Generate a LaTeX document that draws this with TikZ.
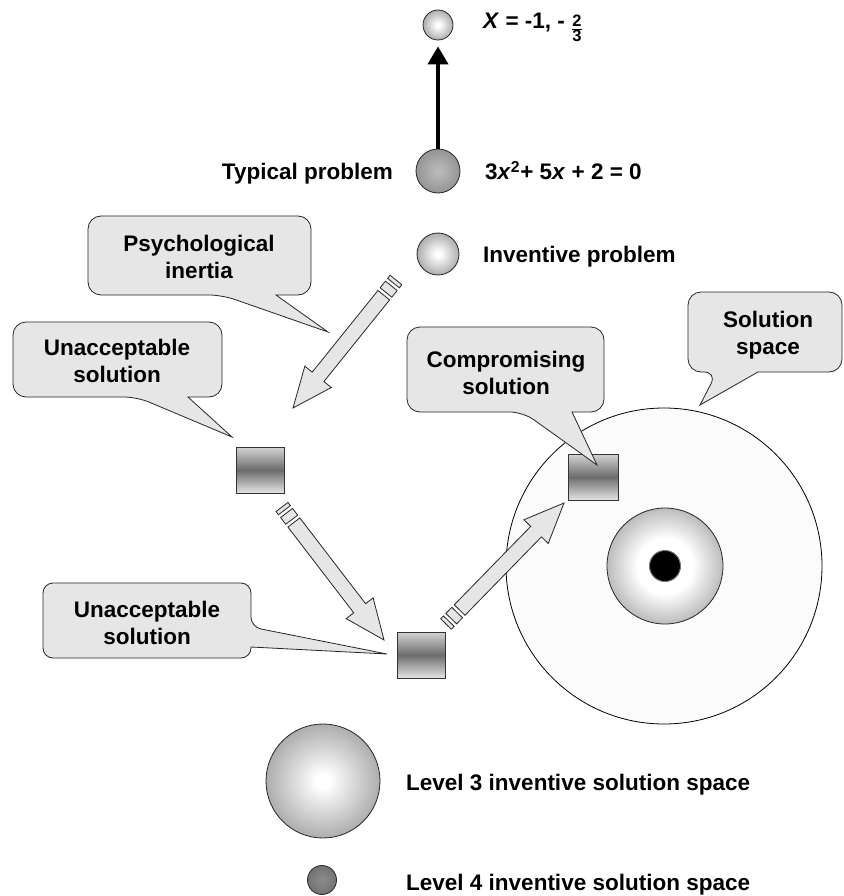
\documentclass[tikz,border=0pt]{standalone}
\usepackage{fontspec}
\setmainfont{Liberation Sans}
\usetikzlibrary{arrows.meta}

\definecolor{boxfill}{HTML}{E6E6E6}
\definecolor{spacefill}{HTML}{FBFBFB}
\definecolor{sqtop}{HTML}{D4D4D4}
\definecolor{sqmid}{HTML}{6C6C6C}
\definecolor{sqbot}{HTML}{E4E4E4}
\definecolor{ballrim}{HTML}{888888}
\definecolor{midcore}{HTML}{BDBDBD}
\definecolor{midrim}{HTML}{848484}
\definecolor{darkcore}{HTML}{8C8C8C}
\definecolor{darkrim}{HTML}{686868}

% radial fills for the spheres and the ring (the rim of a circle sits at about 35bp)
\pgfdeclareradialshading{lightball}{\pgfpoint{0bp}{0bp}}{color(0bp)=(white); color(3bp)=(white); color(35bp)=(ballrim); color(50bp)=(ballrim)}
\pgfdeclareradialshading{midball}{\pgfpoint{0bp}{0bp}}{color(0bp)=(midcore); color(35bp)=(midrim); color(50bp)=(midrim)}
\pgfdeclareradialshading{darkball}{\pgfpoint{0bp}{0bp}}{color(0bp)=(darkcore); color(35bp)=(darkrim); color(50bp)=(darkrim)}
\pgfdeclareradialshading{ringshade}{\pgfpoint{0bp}{0bp}}{color(0bp)=(white); color(12bp)=(white); color(35bp)=(ballrim); color(50bp)=(ballrim)}

\tikzset{
  lbl/.style={font=\bfseries\fontsize{22.5}{27}\selectfont, inner sep=0pt},
  calltext/.style={lbl, align=center},
  ball/.style={circle, inner sep=0pt, draw=black!85, line width=0.8pt, shade, shading=#1},
  sq/.style={rectangle, inner sep=0pt, minimum width=48pt, minimum height=46pt,
    draw=black!80, line width=0.8pt, top color=sqtop, bottom color=sqbot, middle color=sqmid},
  callbox/.style={draw=black!85, line width=0.8pt, fill=boxfill},
  blockarrow/.style={draw=black!85, line width=0.8pt, fill=boxfill},
  liftarrow/.style={line width=4pt, -{Triangle[width=20pt,length=18pt]}, shorten >=6pt},
}

% wide arrow with two stripes at its tail, from coordinate #1 to coordinate #2
\newcommand\stripedarrow[2]{%
  \pgfpointdiff{\pgfpointanchor{#1}{center}}{\pgfpointanchor{#2}{center}}%
  \pgfgetlastxy{\arrdx}{\arrdy}%
  \pgfmathsetmacro\arrang{atan2(\arrdy,\arrdx)}%
  \pgfmathsetmacro\arrlen{veclen(\arrdx,\arrdy)}%
  \begin{scope}[shift={(#1)}, rotate=\arrang]
    \draw[blockarrow] (0,-7.5) rectangle (4,7.5) (7.5,-7.5) rectangle (16,7.5)
      (19.5,-7.5) -- (\arrlen-40,-7.5) -- (\arrlen-40,-17) -- (\arrlen,0)
      -- (\arrlen-40,17) -- (\arrlen-40,7.5) -- (19.5,7.5) -- cycle;
  \end{scope}}

\begin{document}
\begin{tikzpicture}[x=1pt, y=-1pt]
\useasboundingbox (0,0) rectangle (843,896);

% solution space with its core
\node[circle, minimum size=316pt, inner sep=0pt, fill=spacefill, draw=black, line width=0.8pt] (space) at (664,566) {};
\node[ball=ringshade, minimum size=116pt] (ring) at (665,566) {};
\node[circle, minimum size=31pt, inner sep=0pt, fill=black, draw=black!55, line width=1pt] (core) at (665,566) {};

% solutions
\node[sq] (q1) at (260,470) {};
\node[sq] (q2) at (421,655) {};
\node[sq, minimum width=50pt] (q3) at (593,477) {};

% arrow end points
\coordinate (a1s) at (396,280);
\coordinate (a1e) at (293,408);
\coordinate (a2s) at (282,507);
\coordinate (a2e) at (384,640);
\coordinate (a3s) at (446,624);
\coordinate (a3e) at (564,503);
\stripedarrow{a1s}{a1e}
\stripedarrow{a2s}{a2e}
\stripedarrow{a3s}{a3e}

% callout pointer tips
\coordinate (tipA) at (328,332);
\coordinate (tipB) at (232,437);
\coordinate (tipC) at (597,465);
\coordinate (tipD) at (700,405);
\coordinate (tipE) at (387,654);

% callouts
\draw[callbox] (222,295) -- (tipA) -- (276,295) [rounded corners=13pt] -- (311,295) -- (311,216) -- (88,216) -- (88,295) -- cycle;
\node[calltext] (ctA) at (199,257) {Psychological\\inertia};

\draw[callbox] (137,397) -- (tipB) -- (188,397) [rounded corners=13pt] -- (222,397) -- (222,322) -- (13,322) -- (13,397) -- cycle;
\node[calltext] (ctB) at (117,361) {Unacceptable\\solution};

\draw[callbox] (523,412) -- (tipC) -- (572,412) [rounded corners=13pt] -- (604,412) -- (604,327) -- (407,327) -- (407,412) -- cycle;
\node[calltext] (ctC) at (506,373) {Compromising\\solution};

\draw[callbox] (717,372) -- (tipD) -- (758,372) [rounded corners=13pt] -- (842,372) -- (842,292) -- (688,292) -- (688,372) -- cycle;
\node[calltext] (ctD) at (768,335) {Solution\\space};

\draw[callbox] (251,627) -- (tipE) -- (251,647) [rounded corners=10pt] -- (251,658) -- (43,658) -- (43,583) -- (251,583) -- cycle;
\node[calltext] (ctE) at (147,623) {Unacceptable\\solution};

% problems and the routine solution
\node[ball=lightball, minimum size=30pt] (s0) at (438,25) {};
\node[ball=midball, minimum size=44pt] (s1) at (438,171) {};
\node[ball=lightball, minimum size=42pt] (s2) at (438,254) {};
\draw[liftarrow] (s1.north) -- (s0.south);

\node[lbl, anchor=base west] (root) at (483,29) {\textit{X} = -1, - \raisebox{-5.5pt}{$\frac{\hbox{\fontsize{16.5}{16.5}\selectfont\bfseries 2}}{\hbox{\fontsize{16.5}{16.5}\selectfont\bfseries 3}}$}};
\node[lbl, anchor=base east] (typ) at (393,180) {Typical problem};
\node[lbl, anchor=base west] (eqn) at (485,180) {3\textit{x}\textsuperscript{2}+ 5\textit{x} + 2 = 0};
\node[lbl, anchor=base west] (inv) at (483,262) {Inventive problem};

% legend
\node[ball=lightball, minimum size=114pt] (lv3) at (323,781) {};
\node[ball=darkball, minimum size=29pt] (lv4) at (322,880) {};
\node[lbl, anchor=base west] (lv3t) at (406,790) {Level 3 inventive solution space};
\node[lbl, anchor=base west] (lv4t) at (406,890) {Level 4 inventive solution space};
\end{tikzpicture}
\end{document}
